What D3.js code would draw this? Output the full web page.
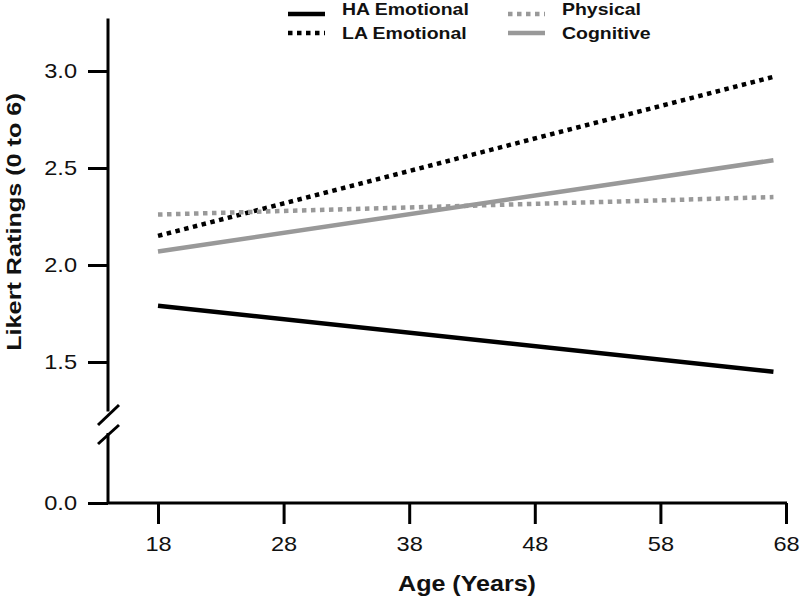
<!DOCTYPE html>
<html><head><meta charset="utf-8">
<script src="https://cdn.jsdelivr.net/npm/d3@7"></script>
<style>body{margin:0;background:#fff}svg{display:block}text{font-family:"Liberation Sans",Arial,Helvetica,sans-serif}</style>
</head><body>
<svg id="c" width="800" height="598"></svg>
<script>
const ages = [18, 67];
const haEmotional = [1.79, 1.45];
const laEmotional = [2.15, 2.97];
const physical = [2.26, 2.35];
const cognitive = [2.07, 2.54];
const xTicks = [18, 28, 38, 48, 58, 68];
const yTicksUpper = [1.5, 2.0, 2.5, 3.0];
const yTicksLower = [0.0];
const seriesNames = ["HA Emotional", "LA Emotional", "Physical", "Cognitive"];

const svg = d3.select("#c");
const x = d3.scaleLinear().domain([18, 68]).range([158, 786]);
const y = d3.scaleLinear().domain([1.5, 3.0]).range([362, 71]);
const yLow = d3.scaleLinear().domain([0, 0.36]).range([503, 433]);

const styles = {
  "HA Emotional": {color: "#000", dash: null},
  "LA Emotional": {color: "#000", dash: "4.5,4.5"},
  "Physical": {color: "#999", dash: "4.5,4.5"},
  "Cognitive": {color: "#999", dash: null}
};
const data = {"HA Emotional": haEmotional, "LA Emotional": laEmotional, "Physical": physical, "Cognitive": cognitive};

// horizontally widen text around its anchor point
function widen(sel, s) {
  sel.each(function() {
    const t = d3.select(this);
    const tx = +t.attr("x") || 0, ty = +t.attr("y") || 0;
    const prev = t.attr("transform") || "";
    t.attr("x", 0).attr("y", 0).attr("transform", prev + ` translate(${tx},${ty}) scale(${s},1)`);
  });
}

// axes
const axG = svg.append("g");
axG.append("line").attr("x1",108).attr("x2",108).attr("y1",y(3.27)).attr("y2",y(1.245)).attr("stroke","#000").attr("stroke-width",3);
axG.append("line").attr("x1",108).attr("x2",108).attr("y1",yLow(0.36)).attr("y2",yLow(0)).attr("stroke","#000").attr("stroke-width",3);
[[98,425,119,405],[98,444,119,425]].forEach(b=>{
  axG.append("line").attr("x1",b[0]).attr("y1",b[1]).attr("x2",b[2]).attr("y2",b[3]).attr("stroke","#000").attr("stroke-width",3);
});
axG.append("line").attr("x1",108).attr("x2",787).attr("y1",503).attr("y2",503).attr("stroke","#000").attr("stroke-width",3);

const yAxisU = svg.append("g").attr("transform","translate(108,0)")
  .call(d3.axisLeft(y).tickValues(yTicksUpper).tickFormat(d3.format(".1f")).tickSize(20).tickPadding(11));
const yAxisL = svg.append("g").attr("transform","translate(108,0)")
  .call(d3.axisLeft(yLow).tickValues(yTicksLower).tickFormat(d3.format(".1f")).tickSize(20).tickPadding(11));
const xAxis = svg.append("g").attr("transform","translate(0,503)")
  .call(d3.axisBottom(x).tickValues(xTicks).tickSize(21).tickPadding(13));
[yAxisU, yAxisL, xAxis].forEach(g=>{
  g.select(".domain").remove();
  g.selectAll(".tick line").attr("stroke","#000").attr("stroke-width",3);
  const tt = g.selectAll(".tick text").attr("fill","#111").style("font-size","20px").style("font-family","'Liberation Sans',Arial,sans-serif");
  widen(tt, 1.18);
});

// lines
const line = d3.line().x((d,i)=>x(ages[i])).y(d=>y(d));
seriesNames.forEach(n=>{
  svg.append("path").datum(data[n]).attr("d", line).attr("fill","none")
    .attr("stroke", styles[n].color).attr("stroke-width", 4.5)
    .attr("stroke-dasharray", styles[n].dash);
});

// titles
svg.append("text").attr("transform","translate(21,222) rotate(-90) scale(1.2,1)").attr("text-anchor","middle")
  .style("font-size","21px").style("font-weight","bold").attr("fill","#111").text("Likert Ratings (0 to 6)");
svg.append("text").attr("transform","translate(467,591) scale(1.14,1)").attr("text-anchor","middle")
  .style("font-size","22px").style("font-weight","bold").attr("fill","#111").text("Age (Years)");

// legend
const legPos = [[288,14,15],[288,33,39],[508,14,15],[508,33,39]];
seriesNames.forEach((n,i)=>{
  const [lx,ly,ty] = legPos[i];
  svg.append("line").attr("x1",lx).attr("x2",lx+37).attr("y1",ly).attr("y2",ly)
    .attr("stroke",styles[n].color).attr("stroke-width",4.5).attr("stroke-dasharray",styles[n].dash);
  svg.append("text").attr("transform",`translate(${lx+54},${ty}) scale(1.18,1)`).style("font-size","16.5px").style("font-weight","bold")
    .attr("fill","#111").text(n);
});
</script>
</body></html>
